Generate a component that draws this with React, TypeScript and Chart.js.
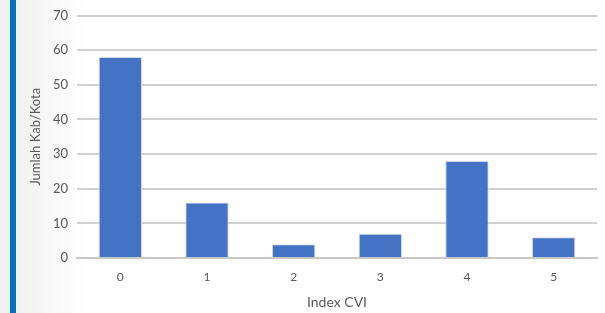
import React, { useEffect, useRef } from "react";
import { Chart, registerables } from "chart.js";

Chart.register(...registerables);

const categories = ["0", "1", "2", "3", "4", "5"];
const jumlah = [58, 16, 4, 7, 28, 6];
const yTicks = [0, 10, 20, 30, 40, 50, 60, 70];

export default function App() {
  const ref = useRef<HTMLCanvasElement | null>(null);
  useEffect(() => {
    document.body.style.margin = "0";
    const ctx = ref.current!;
    const chart = new Chart(ctx, {
      type: "bar",
      data: {
        labels: categories,
        datasets: [
          {
            data: jumlah,
            backgroundColor: "#4472C4",
            borderColor: "#d0d8e8",
            borderWidth: 1,
            categoryPercentage: 1,
            barPercentage: 0.5,
          },
        ],
      },
      options: {
        animation: false,
        responsive: false,
        maintainAspectRatio: false,
        layout: { padding: { left: 28, right: 8, top: 14, bottom: 2 } },
        plugins: { legend: { display: false }, tooltip: { enabled: false } },
        scales: {
          x: {
            grid: { display: false, drawTicks: false },
            border: { color: "#c8c8c8", width: 2 },
            ticks: { color: "#595959", font: { family: "Lato", size: 12 }, padding: 12 },
            title: {
              display: true,
              text: "Index CVI",
              color: "#595959",
              font: { family: "Lato", size: 14 },
              padding: { top: 8, bottom: 0 },
            },
            afterFit: (s: any) => {
              s.height = 53;
            },
          },
          y: {
            min: 0,
            max: 70,
            afterBuildTicks: (s: any) => {
              s.ticks = yTicks.map((v) => ({ value: v }));
            },
            grid: { color: "#d0d0d0", lineWidth: 2, drawTicks: false },
            border: { display: false },
            ticks: { color: "#595959", font: { family: "Lato", size: 13, lineHeight: 1 }, padding: 9 },
            title: {
              display: true,
              text: "Jumlah Kab/Kota",
              color: "#595959",
              font: { family: "Lato", size: 13 },
              padding: { top: 0, bottom: 4 },
            },
            afterFit: (s: any) => {
              s.width = 49;
            },
          },
        },
      },
    });
    return () => chart.destroy();
  }, []);
  return (
    <div style={{ position: "fixed", left: 0, top: 0, width: 605, height: 313, background: "#ffffff", overflow: "hidden" }}>
      <div style={{ position: "absolute", left: 0, top: 0, width: 10, height: 313, background: "#efefef" }} />
      <div style={{ position: "absolute", left: 10, top: 0, width: 6, height: 313, background: "#0070C0" }} />
      <div
        style={{
          position: "absolute",
          left: 16,
          top: 0,
          width: 70,
          height: 313,
          background: "linear-gradient(to right, #f0f0f0, #ffffff)",
        }}
      />
      <canvas ref={ref} width={605} height={313} style={{ position: "absolute", left: 0, top: 0 }} />
    </div>
  );
}
